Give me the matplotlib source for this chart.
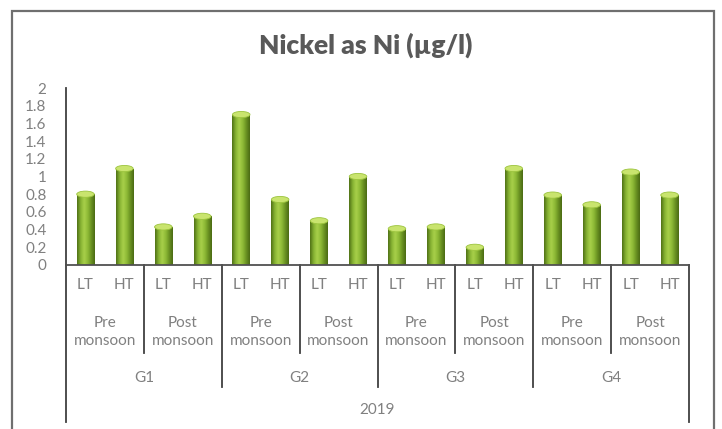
import numpy as np
import matplotlib
matplotlib.use("Agg")
import matplotlib.pyplot as plt
from matplotlib.patches import Ellipse, Rectangle
from matplotlib.transforms import blended_transform_factory

plt.rcParams['font.family'] = ['Lato', 'DejaVu Sans']

# data
stations = ["G1", "G2", "G3", "G4"]
seasons = ["Pre\nmonsoon", "Post\nmonsoon"]
tides = ["LT", "HT"]
year = "2019"
nickel = [0.80, 1.09, 0.43, 0.55,
          1.70, 0.74, 0.50, 1.00,
          0.41, 0.43, 0.20, 1.09,
          0.79, 0.68, 1.05, 0.79]

W, H = 722, 429
fig = plt.figure(figsize=(W / 100, H / 100), dpi=100)

def fy(py):
    return 1 - py / H

# chart frame
fig.patches.append(Rectangle((12 / W, -0.05), (714 - 12) / W, fy(11) + 0.05,
                             transform=fig.transFigure, fill=False,
                             edgecolor="#6f6f6f", linewidth=1.6))

ax = fig.add_axes([66 / W, fy(265), (689 - 66) / W, (265 - 88) / H])
x = np.arange(len(nickel))
w = 0.45

# cylinder-like bars with a horizontal gradient
cmap = matplotlib.colors.LinearSegmentedColormap.from_list(
    "cyl", ["#4f7016", "#86b232", "#a8d04a", "#8fbb37", "#6a9222", "#4a6a14"])
grad = np.linspace(0, 1, 64).reshape(1, -1)
bars = ax.bar(x, nickel, width=w, color="none", edgecolor="none")
for b, v in zip(bars, nickel):
    x0 = b.get_x()
    im = ax.imshow(grad, cmap=cmap, aspect="auto", extent=[x0, x0 + w, 0, v],
                   interpolation="bicubic", zorder=2)
    im.set_clip_path(b)
    cap = Ellipse((x0 + w / 2, v), w, 0.07, facecolor="#c9e46e",
                  edgecolor="#9cc43e", linewidth=0.6, zorder=3)
    ax.add_patch(cap)
ax.set_xlim(-0.5, len(nickel) - 0.5)
ax.set_ylim(0, 2)

ax.set_yticks(np.arange(0, 2.01, 0.2))
ax.set_yticklabels(["%g" % round(t, 1) for t in np.arange(0, 2.01, 0.2)])
ax.tick_params(axis="y", length=0, pad=14, labelsize=11, labelcolor="#808080")
ax.set_xticks([])
for s in ["top", "right"]:
    ax.spines[s].set_visible(False)
ax.spines["left"].set_color("#404040")
ax.spines["bottom"].set_color("#505050")
ax.spines["left"].set_linewidth(1.3)
ax.spines["bottom"].set_linewidth(1.3)

# multi-level category axis
tr = blended_transform_factory(ax.transData, fig.transFigure)
lc = "#404040"
tc = "#808080"
n = len(nickel)
for i in range(n):
    ax.text(i, fy(285), tides[i % 2], transform=tr, ha="center", va="center",
            fontsize=11, color=tc)
for j in range(n // 2):
    ax.text(2 * j + 0.5, fy(332), seasons[j % 2], transform=tr, ha="center",
            va="center", fontsize=11, color=tc, linespacing=1.3)
for k, g in enumerate(stations):
    ax.text(4 * k + 1.5, fy(378), g, transform=tr, ha="center", va="center",
            fontsize=11, color=tc)
ax.text((n - 1) / 2, fy(410), year, transform=tr, ha="center", va="center",
        fontsize=11, color=tc)

for j in range(1, n // 2):
    xb = 2 * j - 0.5
    bottom = 387 if j % 2 == 0 else 353
    ax.plot([xb, xb], [fy(265), fy(bottom)], transform=tr, color=lc,
            linewidth=1.3, clip_on=False)
for xb in [-0.5, n - 0.5]:
    ax.plot([xb, xb], [fy(265), fy(422)], transform=tr, color=lc,
            linewidth=1.3, clip_on=False)

fig.text(366 / W, fy(45), "Nickel as Ni (\u00b5g/l)", ha="center", va="center",
         fontsize=19, fontweight="heavy", color="#595959")

fig.savefig("out.png", dpi=100)
